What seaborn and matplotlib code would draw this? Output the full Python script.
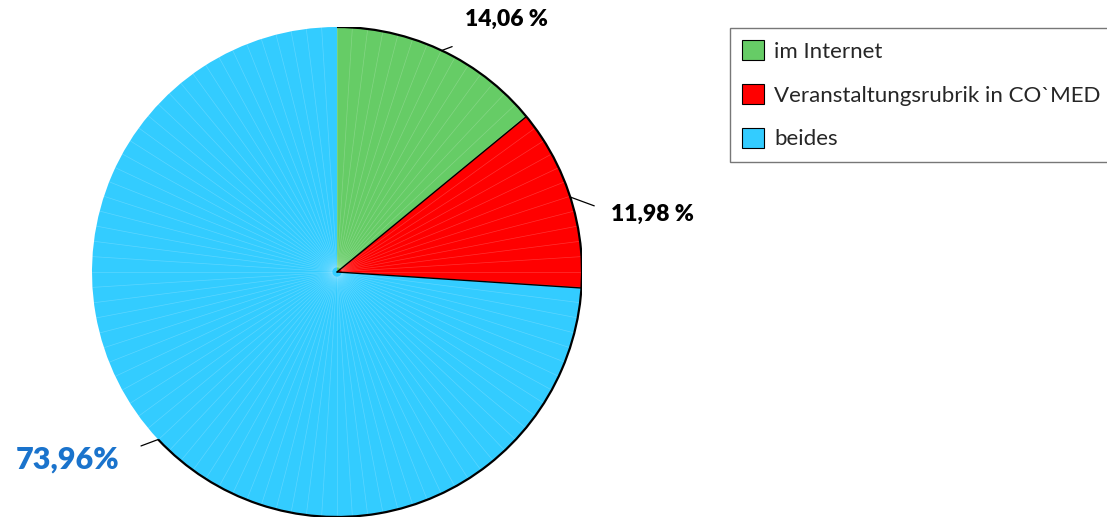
import numpy as np
import matplotlib
matplotlib.use("Agg")
import matplotlib.pyplot as plt
from matplotlib.patches import Arc
import seaborn as sns

# Daten (Anteile in %)
kategorien = ["im Internet", "Veranstaltungsrubrik in CO`MED", "beides"]
anteile = [14.06, 11.98, 73.96]
beschriftung = ["14,06 %", "11,98 %", "73,96%"]
farben = ["#66CC66", "#FF0000", "#33CCFF"]

sns.set_theme(style="white")
plt.rcParams["font.family"] = ["Lato", "DejaVu Sans"]

fig = plt.figure(figsize=(11.07, 5.18), dpi=100)
ax = fig.add_axes([92 / 1107, 1 / 518, 490 / 1107, 490 / 518])

wedges, _ = ax.pie(anteile, colors=farben, startangle=90, counterclock=False,
                   radius=1.0, wedgeprops=dict(linewidth=0, edgecolor="none"))

# feine helle Strahlen wie im Original
for a in np.arange(0, 360, 3.6):
    r = np.deg2rad(a)
    ax.plot([0.02 * np.cos(r), np.cos(r)], [0.02 * np.sin(r), np.sin(r)],
            color="white", lw=0.5, alpha=0.2, zorder=2)

# Winkel der Segmentgrenzen
grenzen = 90 - np.cumsum([0] + anteile) * 3.6
mitten = (grenzen[:-1] + grenzen[1:]) / 2

# dunkle Kanten
for g in grenzen[1:3]:
    r = np.deg2rad(g)
    ax.plot([0, np.cos(r)], [0, np.sin(r)], color="black", lw=1.0, zorder=3)
ax.add_patch(Arc((0, 0), 2, 2, theta1=mitten[2], theta2=90, color="black",
                 lw=1.6, zorder=4))

# Beschriftungen mit Hinweislinien
leader_end = [(0.47, 0.92), (1.05, 0.27), (-0.80, -0.71)]
text_pos = [(0.69, 1.03, "center"), (1.12, 0.235, "left"), (-0.89, -0.765, "right")]
text_size = [16.5, 16.5, 22]
text_col = ["black", "black", "#1A73CC"]
for m, lab, (lx, ly), (tx, ty, ha), fs, c in zip(mitten, beschriftung,
                                                 leader_end, text_pos,
                                                 text_size, text_col):
    r = np.deg2rad(m)
    ax.plot([np.cos(r), lx], [np.sin(r), ly], color="black", lw=0.9,
            clip_on=False)
    ax.text(tx, ty, lab, ha=ha, va="center", fontsize=fs, fontweight="heavy",
            color=c, clip_on=False)

ax.set_xlim(-1, 1)
ax.set_ylim(-1, 1)
ax.set_aspect("equal")
ax.axis("off")

leg = fig.legend(wedges, kategorien, loc="upper left",
                 bbox_to_anchor=(730 / 1107, 1 - 28 / 518), borderaxespad=0,
                 fontsize=16, frameon=True, fancybox=False,
                 edgecolor="#555555", handlelength=1.0, handleheight=1.0,
                 handletextpad=0.45, labelspacing=1.0, borderpad=0.55)
leg.get_frame().set_linewidth(1.0)
for h in leg.legend_handles:
    h.set_edgecolor("black")
    h.set_linewidth(0.8)

fig.savefig("out.png", dpi=100, facecolor="white")
